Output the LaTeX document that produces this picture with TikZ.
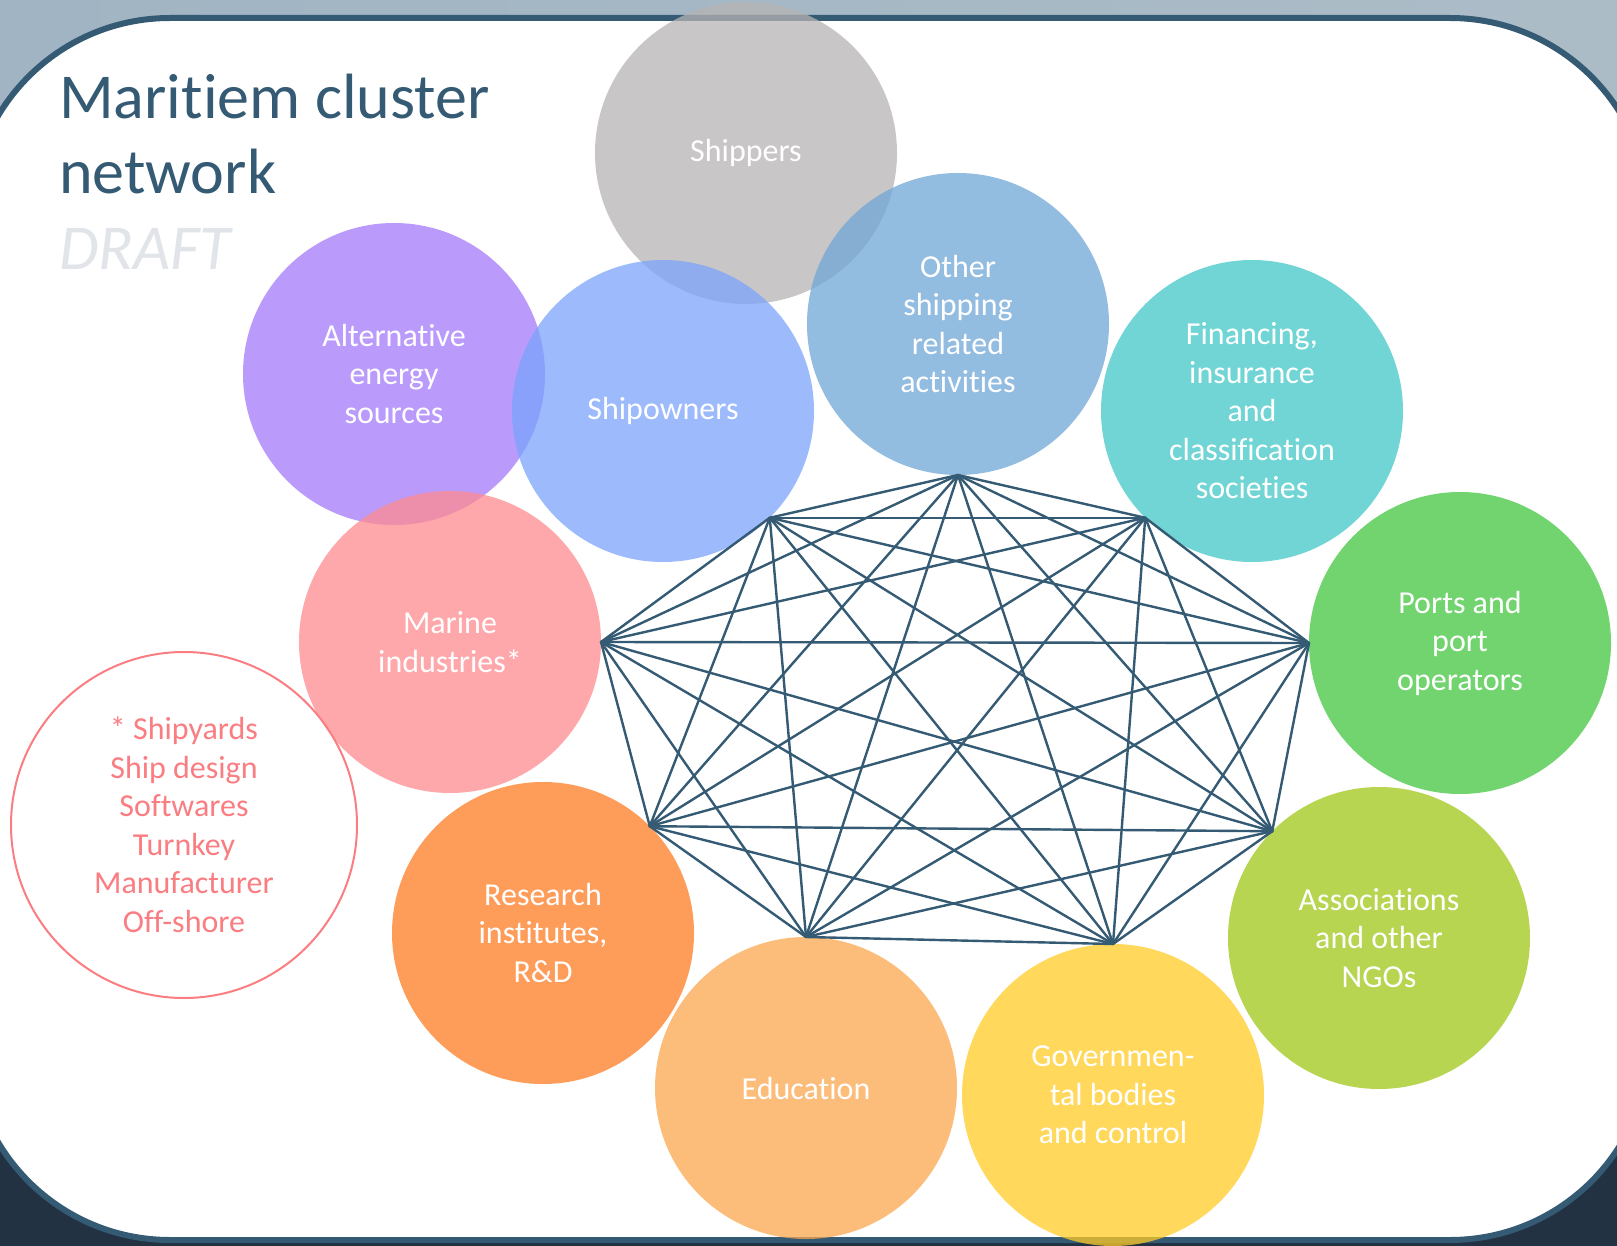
\documentclass[tikz,border=0pt]{standalone}
\usepackage{fontspec}
\setmainfont{Carlito}[Ligatures={NoCommon,NoContextual}, RawFeature={-liga;-clig;-calt}]
\usetikzlibrary{positioning,calc}

\definecolor{navy}{RGB}{52,90,116}
\definecolor{skyleft}{RGB}{160,180,195}
\definecolor{skymid}{RGB}{214,215,213}
\definecolor{skyright}{RGB}{172,188,199}
\definecolor{sea}{RGB}{34,50,66}
\definecolor{shipc}{RGB}{182,180,179}
\definecolor{otherc}{RGB}{112,166,216}
\definecolor{ownerc}{RGB}{123,164,252}
\definecolor{energyc}{RGB}{164,122,252}
\definecolor{financec}{RGB}{68,199,200}
\definecolor{portc}{RGB}{67,198,64}
\definecolor{ngoc}{RGB}{159,200,24}
\definecolor{govc}{RGB}{255,203,38}
\definecolor{educc}{RGB}{252,167,79}
\definecolor{researchc}{RGB}{254,124,35}
\definecolor{marinec}{RGB}{255,139,143}
\definecolor{notec}{RGB}{250,125,130}
\definecolor{draftc}{RGB}{225,228,232}

\begin{document}
\begin{tikzpicture}
   [x=1pt,y=-1pt,
    bubble/.style={circle, minimum size=302pt, inner sep=0pt, outer sep=0pt,
        fill opacity=.75, text opacity=1, text=white, align=center,
        font=\fontsize{32}{38.5}\selectfont},
    link/.style={draw=navy, line width=2.4pt, line cap=round},
    frame/.style={draw=navy, line width=6pt, fill=white, rounded corners=200pt},
    bigtext/.style={anchor=base west, inner sep=0pt, font=\fontsize{64}{75}\selectfont}]

\useasboundingbox (0,0) rectangle (1617,1246);
\fill[left color=skyleft, middle color=skymid, right color=skyright] (0,0) rectangle (1617,623);
\fill[sea] (0,623) rectangle (1617,1246);
\draw[frame] (-30,18) rectangle (1650,1240);

\node[bigtext, align=left, text=navy] (title) at (59,194) {Maritiem cluster\\network};
\node[bigtext, text=draftc, font=\fontsize{64}{75}\selectfont\itshape] (draft) at (59,270) {DRAFT};

\node[bubble, fill=shipc] (shippers) at (746,153) {Shippers};
\node[bubble, fill=otherc] (other) at (958,324) {Other\\shipping\\related\\activities};
\node[bubble, fill=energyc] (energy) at (394,374) {Alternative\\energy\\sources};
\node[bubble, fill=ownerc] (owners) at (663,411) {Shipowners};
\node[bubble, fill=financec] (finance) at (1252,411) {Financing,\\insurance\\and\\classification\\societies};
\node[bubble, fill=marinec] (marine) at (450,642) {Marine\\industries*};
\node[bubble, fill=portc] (ports) at (1460,643) {Ports and\\port\\operators};
\node[bubble, fill=researchc] (research) at (543,933) {Research\\institutes,\\R\&D};
\node[bubble, fill=ngoc] (ngos) at (1379,938) {Associations\\and other\\NGOs};
\node[bubble, fill=educc] (educ) at (806,1088) {Education};
\node[bubble, fill=govc] (gov) at (1113,1095) {Governmen-\\tal bodies\\and control};

\node[circle, draw=notec, line width=2pt, minimum size=346pt, inner sep=0pt, text=notec,
      align=center, font=\fontsize{32}{38.5}\selectfont] (note) at (184,825)
      {* Shipyards\\Ship design\\Softwares\\Turnkey\\Manufacturer\\Off-shore};

\coordinate (v1) at (other.south);
\coordinate (v2) at (finance.south west);
\coordinate (v3) at (ports.west);
\coordinate (v4) at (ngos.north west);
\coordinate (v5) at (gov.north);
\coordinate (v6) at (educ.north);
\coordinate (v7) at (research.north east);
\coordinate (v8) at (marine.east);
\coordinate (v9) at (owners.south east);
\foreach \i [evaluate=\i as \k using int(\i+1)] in {1,...,8}
  \foreach \j in {\k,...,9}
    \draw[link] (v\i) -- (v\j);
\end{tikzpicture}
\end{document}
